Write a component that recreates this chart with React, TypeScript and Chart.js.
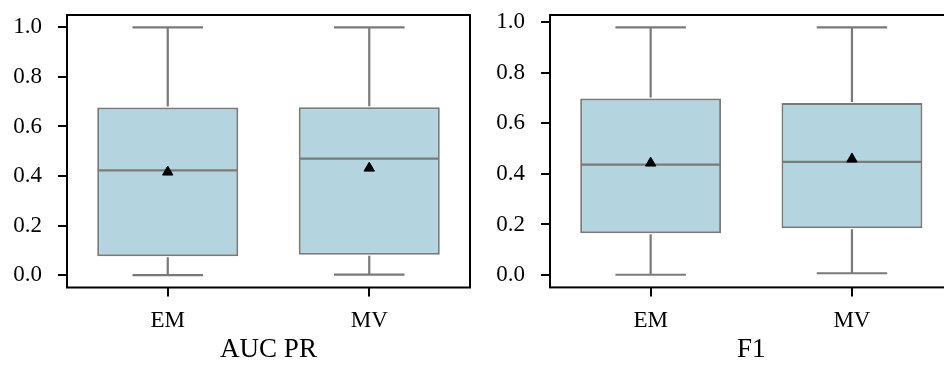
import React, { useEffect, useRef } from 'react';
import { Chart, registerables } from 'chart.js';

Chart.register(...registerables);

// ---- data ----
const categories = ['EM', 'MV'];
const yTickValues = [0, 0.2, 0.4, 0.6, 0.8, 1.0];

const aucLow = [0.0, 0.002];
const aucQ1 = [0.076, 0.082];
const aucMedian = [0.423, 0.47];
const aucQ3 = [0.677, 0.678];
const aucHigh = [1.0, 1.0];
const aucMean = [0.416, 0.432];

const f1Low = [0.001, 0.007];
const f1Q1 = [0.165, 0.185];
const f1Median = [0.437, 0.448];
const f1Q3 = [0.699, 0.681];
const f1High = [0.98, 0.98];
const f1Mean = [0.443, 0.459];

const FONT = "'Liberation Serif', 'Times New Roman', serif";
const BOX_FILL = 'rgb(180,212,223)';
const LINE_GRAY = '#7a7a7a';

const boxPlugin = {
  id: 'boxWhisker',
  afterDatasetDraw(chart: any, args: any, opts: any) {
    if (args.index !== 0) return;
    const { ctx } = chart;
    const y = chart.scales.y;
    const meta = chart.getDatasetMeta(0);
    ctx.save();
    ctx.strokeStyle = opts.color;
    ctx.lineWidth = opts.lineWidth;
    ctx.lineCap = 'butt';
    meta.data.forEach((bar: any, i: number) => {
      const { x, width } = bar.getProps(['x', 'width'], true);
      const half = width / 2 - 1;
      const cap = width / 4;
      const yLow = y.getPixelForValue(opts.low[i]);
      const yQ1 = y.getPixelForValue(opts.q1[i]);
      const yMed = y.getPixelForValue(opts.median[i]);
      const yQ3 = y.getPixelForValue(opts.q3[i]);
      const yHigh = y.getPixelForValue(opts.high[i]);
      ctx.beginPath();
      ctx.moveTo(x - half, yMed);
      ctx.lineTo(x + half, yMed);
      ctx.moveTo(x, yQ3 - 1);
      ctx.lineTo(x, yHigh);
      ctx.moveTo(x - cap, yHigh);
      ctx.lineTo(x + cap, yHigh);
      ctx.moveTo(x, yQ1 + 1);
      ctx.lineTo(x, yLow);
      ctx.moveTo(x - cap, yLow);
      ctx.lineTo(x + cap, yLow);
      ctx.stroke();
    });
    ctx.restore();
  },
  afterDraw(chart: any) {
    const { ctx, chartArea } = chart;
    const { left, top, right, bottom } = chartArea;
    ctx.save();
    ctx.strokeStyle = '#000';
    ctx.lineWidth = 2;
    ctx.strokeRect(left, top, right - left, bottom - top);
    ctx.restore();
  },
};

type BoxProps = {
  low: number[];
  q1: number[];
  median: number[];
  q3: number[];
  high: number[];
  mean: number[];
  yMin: number;
  yMax: number;
  title: string;
  areaLeft: number;
  padRight: number;
  padTop: number;
  areaBottom: number;
  left: number;
};

function BoxChart(p: BoxProps) {
  const ref = useRef<HTMLCanvasElement | null>(null);
  useEffect(() => {
    if (!ref.current) return;
    const chart = new Chart(ref.current, {
      type: 'bar',
      data: {
        labels: categories,
        datasets: [
          {
            type: 'bar',
            data: categories.map((_, i) => [p.q1[i], p.q3[i]]) as any,
            backgroundColor: BOX_FILL,
            borderColor: LINE_GRAY,
            borderWidth: 2,
            borderSkipped: false,
            barPercentage: 0.7,
            categoryPercentage: 1,
            order: 2,
          } as any,
          {
            type: 'line',
            data: p.mean,
            showLine: false,
            pointStyle: 'triangle',
            pointRadius: 6,
            pointBorderWidth: 1,
            pointBackgroundColor: '#000',
            pointBorderColor: '#000',
            order: 1,
          } as any,
        ],
      },
      options: {
        animation: false,
        responsive: false,
        devicePixelRatio: 1,
        layout: {
          autoPadding: false,
          padding: { left: 0, right: p.padRight, top: p.padTop, bottom: 0 },
        },
        plugins: {
          legend: { display: false },
          tooltip: { enabled: false },
          boxWhisker: {
            low: p.low,
            q1: p.q1,
            median: p.median,
            q3: p.q3,
            high: p.high,
            color: LINE_GRAY,
            lineWidth: 2.2,
          },
        } as any,
        scales: {
          x: {
            type: 'category',
            offset: true,
            grid: {
              offset: false,
              drawOnChartArea: false,
              drawTicks: true,
              tickLength: 9,
              color: '#000',
              lineWidth: 2,
            },
            border: { display: false },
            ticks: {
              color: '#000',
              padding: 11,
              font: { family: FONT, size: 23, lineHeight: 1.2 },
            },
            title: {
              display: true,
              text: p.title,
              color: '#000',
              padding: { top: 0, bottom: 0 },
              font: { family: FONT, size: 27, lineHeight: 1.1 },
            },
            afterFit: (s: any) => {
              s.height = 365 - p.areaBottom;
              s.paddingLeft = 0;
              s.paddingRight = 0;
            },
          },
          y: {
            type: 'linear',
            min: p.yMin,
            max: p.yMax,
            grid: {
              drawOnChartArea: false,
              drawTicks: true,
              tickLength: 9,
              color: '#000',
              lineWidth: 2,
            },
            border: { display: false },
            ticks: {
              color: '#000',
              padding: 16,
              font: { family: FONT, size: 23, lineHeight: 1.2 },
              callback: (v: any) => Number(v).toFixed(1),
            },
            afterBuildTicks: (s: any) => {
              s.ticks = yTickValues.map((v) => ({ value: v }));
            },
            afterFit: (s: any) => {
              s.width = p.areaLeft;
              s.paddingTop = 0;
              s.paddingBottom = 0;
            },
          },
        },
      } as any,
      plugins: [boxPlugin as any],
    });
    return () => chart.destroy();
  }, []);
  return (
    <canvas
      ref={ref}
      width={480}
      height={365}
      style={{ position: 'absolute', left: p.left, top: 0, display: 'block' }}
    />
  );
}

export default function App() {
  return (
    <div
      style={{
        position: 'fixed',
        left: 0,
        top: 0,
        width: 944,
        height: 365,
        overflow: 'hidden',
        background: '#fff',
      }}
    >
      <BoxChart
        low={aucLow}
        q1={aucQ1}
        median={aucMedian}
        q3={aucQ3}
        high={aucHigh}
        mean={aucMean}
        yMin={-0.05}
        yMax={1.05}
        title="AUC PR"
        areaLeft={67}
        padRight={10}
        padTop={15}
        areaBottom={287.5}
        left={0}
      />
      <BoxChart
        low={f1Low}
        q1={f1Q1}
        median={f1Median}
        q3={f1Q3}
        high={f1High}
        mean={f1Mean}
        yMin={-0.049}
        yMax={1.029}
        title="F1"
        areaLeft={70}
        padRight={7.4}
        padTop={15}
        areaBottom={287.4}
        left={480}
      />
    </div>
  );
}
